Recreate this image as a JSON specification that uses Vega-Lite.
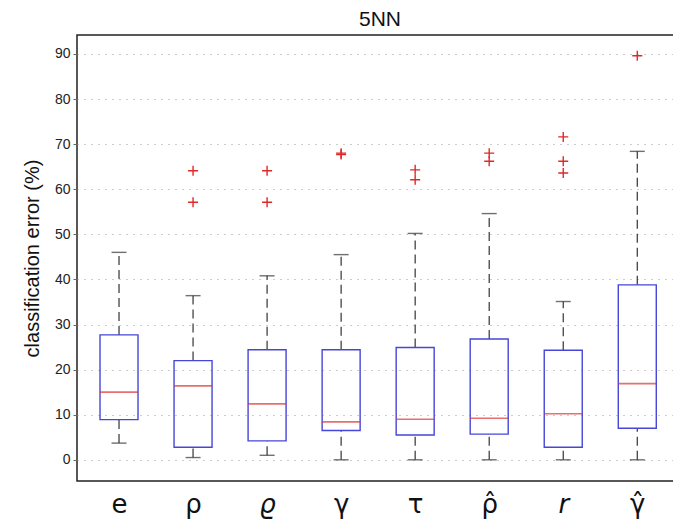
{
  "$schema": "https://vega.github.io/schema/vega-lite/v6.json",
  "width": 598,
  "height": 446,
  "autosize": "none",
  "padding": {"left": 77, "top": 35, "right": 0, "bottom": 44},
  "background": "white",
  "view": {"stroke": "#222", "strokeWidth": 1.5},
  "title": {"text": "5NN", "fontSize": 21, "fontWeight": "normal", "font": "Liberation Sans", "color": "#111", "offset": 5, "dx": 4},
  "datasets": {
    "boxes": [
      {"name": "e", "pos": 1, "lo": 3.7, "q1": 8.9, "med": 15.0, "q3": 27.7, "hi": 46.0},
      {"name": "rho", "pos": 2, "lo": 0.5, "q1": 2.8, "med": 16.4, "q3": 22.0, "hi": 36.4},
      {"name": "varrho", "pos": 3, "lo": 1.0, "q1": 4.2, "med": 12.4, "q3": 24.4, "hi": 40.8},
      {"name": "gamma", "pos": 4, "lo": 0.0, "q1": 6.5, "med": 8.4, "q3": 24.4, "hi": 45.5},
      {"name": "tau", "pos": 5, "lo": 0.0, "q1": 5.5, "med": 9.0, "q3": 24.9, "hi": 50.2},
      {"name": "rhohat", "pos": 6, "lo": 0.0, "q1": 5.7, "med": 9.2, "q3": 26.8, "hi": 54.6},
      {"name": "r", "pos": 7, "lo": 0.0, "q1": 2.8, "med": 10.2, "q3": 24.3, "hi": 35.1},
      {"name": "gammahat", "pos": 8, "lo": 0.0, "q1": 7.0, "med": 16.9, "q3": 38.8, "hi": 68.4}
    ],
    "outliers": [
      {"pos": 2, "v": 64.1}, {"pos": 2, "v": 57.1},
      {"pos": 3, "v": 64.1}, {"pos": 3, "v": 57.1},
      {"pos": 4, "v": 68.0}, {"pos": 4, "v": 67.7},
      {"pos": 5, "v": 64.3}, {"pos": 5, "v": 62.1},
      {"pos": 6, "v": 68.0}, {"pos": 6, "v": 66.2},
      {"pos": 7, "v": 71.6}, {"pos": 7, "v": 66.2}, {"pos": 7, "v": 63.6},
      {"pos": 8, "v": 89.6}
    ]
  },
  "config": {
    "font": "Liberation Sans",
    "axis": {"domain": false}
  },
  "layer": [
    {
      "data": {"name": "boxes"},
      "mark": {"type": "rule", "color": "#333", "strokeDash": [9, 5], "strokeWidth": 1.2},
      "encoding": {
        "x": {
          "field": "pos", "type": "quantitative",
          "scale": {"domain": [0.5, 8.442], "nice": false, "zero": false},
          "axis": {
            "values": [1, 2, 3, 4, 5, 6, 7, 8],
            "title": null,
            "grid": false,
            "ticks": false,
            "labelExpr": "['e','ρ','ϱ','γ','τ','ρ̂','r','γ̂'][datum.value - 1]",
            "labelFontSize": 26,
            "labelFont": "DejaVu Sans",
            "labelFontStyle": {"condition": {"test": "datum.value == 3 || datum.value == 7", "value": "italic"}, "value": "normal"},
            "labelColor": "#111",
            "labelPadding": 10,
            "labelFlush": false
          }
        },
        "y": {
          "field": "q3", "type": "quantitative",
          "scale": {"domain": [-4.7, 94.2], "nice": false, "zero": false},
          "axis": {
            "values": [0, 10, 20, 30, 40, 50, 60, 70, 80, 90],
            "title": "classification error (%)",
            "titleFontSize": 20,
            "titleFontWeight": "normal",
            "titleColor": "#111",
            "titlePadding": 12,
            "labelFontSize": 14,
            "labelColor": "#222",
            "labelPadding": 3,
            "tickSize": 4,
            "tickColor": "#666",
            "grid": true,
            "gridColor": "#999",
            "gridDash": [1, 6],
            "gridWidth": 1.2
          }
        },
        "y2": {"field": "hi"}
      }
    },
    {
      "data": {"name": "boxes"},
      "mark": {"type": "rule", "color": "#333", "strokeDash": [9, 5], "strokeWidth": 1.2},
      "encoding": {
        "x": {"field": "pos", "type": "quantitative"},
        "y": {"field": "lo", "type": "quantitative"},
        "y2": {"field": "q1"}
      }
    },
    {
      "data": {"name": "boxes"},
      "mark": {"type": "bar", "filled": false, "color": "#4646d8", "strokeWidth": 1.4, "width": 38},
      "encoding": {
        "x": {"field": "pos", "type": "quantitative"},
        "y": {"field": "q1", "type": "quantitative"},
        "y2": {"field": "q3"}
      }
    },
    {
      "data": {"name": "boxes"},
      "mark": {"type": "tick", "orient": "horizontal", "color": "#e03030", "size": 38, "thickness": 1.6},
      "encoding": {
        "x": {"field": "pos", "type": "quantitative"},
        "y": {"field": "med", "type": "quantitative"}
      }
    },
    {
      "data": {"name": "boxes"},
      "mark": {"type": "tick", "orient": "horizontal", "color": "#333", "size": 15, "thickness": 1.4},
      "encoding": {
        "x": {"field": "pos", "type": "quantitative"},
        "y": {"field": "hi", "type": "quantitative"}
      }
    },
    {
      "data": {"name": "boxes"},
      "mark": {"type": "tick", "orient": "horizontal", "color": "#333", "size": 15, "thickness": 1.4},
      "encoding": {
        "x": {"field": "pos", "type": "quantitative"},
        "y": {"field": "lo", "type": "quantitative"}
      }
    },
    {
      "data": {"name": "outliers"},
      "mark": {"type": "point", "shape": "M-1,0H1M0,-1V1", "filled": false, "color": "#e02828", "strokeWidth": 1.4, "size": 100, "opacity": 1},
      "encoding": {
        "x": {"field": "pos", "type": "quantitative"},
        "y": {"field": "v", "type": "quantitative"}
      }
    }
  ]
}
